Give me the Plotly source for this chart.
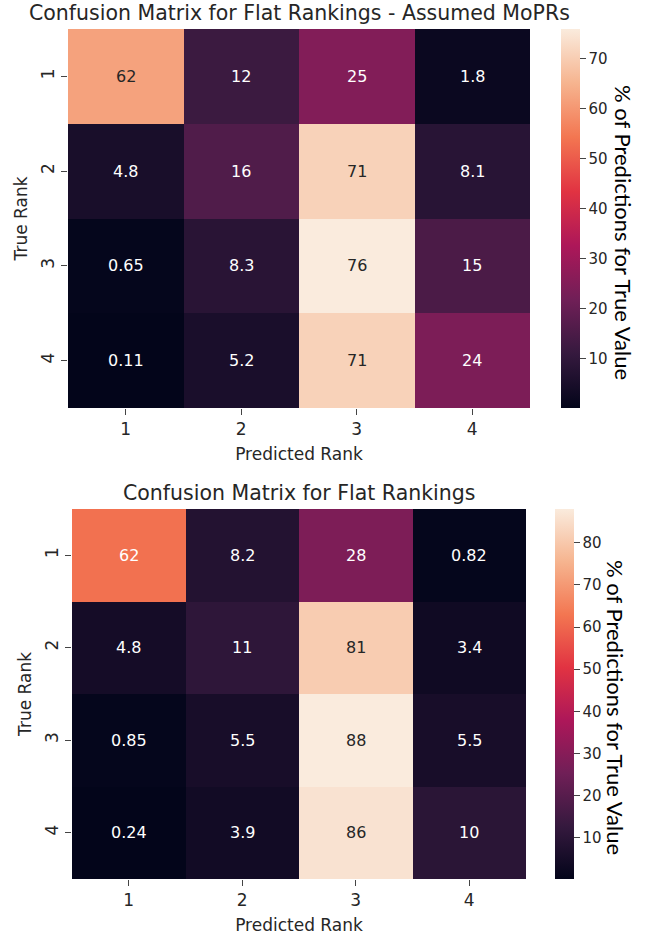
import plotly.graph_objects as go

# Confusion matrices (% of predictions for each true rank)
ranks = [1, 2, 3, 4]
rank_labels = ["1", "2", "3", "4"]
assumed_mopr = [
    [62, 12, 25, 1.8],
    [4.8, 16, 71, 8.1],
    [0.65, 8.3, 76, 15],
    [0.11, 5.2, 71, 24],
]
flat = [
    [62, 8.2, 28, 0.82],
    [4.8, 11, 81, 3.4],
    [0.85, 5.5, 88, 5.5],
    [0.24, 3.9, 86, 10],
]
titles = ["Confusion Matrix for Flat Rankings - Assumed MoPRs",
          "Confusion Matrix for Flat Rankings"]
cbar_title = "% of Predictions for True Value"
cbar_ticks = [[10, 20, 30, 40, 50, 60, 70], [10, 20, 30, 40, 50, 60, 70, 80]]

# seaborn "rocket" colour map, sampled
rocket = [
    (0.0, "#03051a"), (1 / 7, "#35193e"), (2 / 7, "#701f57"),
    (3 / 7, "#ad1759"), (4 / 7, "#e13342"), (5 / 7, "#f37651"),
    (6 / 7, "#f6b48f"), (1.0, "#faebdd"),
]


def hex_rgb(h):
    h = h.lstrip("#")
    return [int(h[i:i + 2], 16) / 255 for i in (0, 2, 4)]


def cmap(t):
    t = min(max(t, 0), 1)
    for (t0, c0), (t1, c1) in zip(rocket[:-1], rocket[1:]):
        if t <= t1:
            f = (t - t0) / (t1 - t0) if t1 > t0 else 0
            a, b = hex_rgb(c0), hex_rgb(c1)
            return [a[i] + f * (b[i] - a[i]) for i in range(3)]
    return hex_rgb(rocket[-1][1])


def luminance(rgb):
    lin = [c / 12.92 if c <= 0.03928 else ((c + 0.055) / 1.055) ** 2.4 for c in rgb]
    return 0.2126 * lin[0] + 0.7152 * lin[1] + 0.0722 * lin[2]


FONT = "DejaVu Sans"
TXT = "#262626"
W, H = 645, 936

# pixel layout of each panel
panels = [
    dict(box=(68, 530, 29, 408), cbx=(561, 580), cbt=(624, 232), title_y=13),
    dict(box=(72, 526, 509, 879), cbx=(555, 574), cbt=(616, 707), title_y=493),
]

fig = go.Figure()
annotations = []
for k, (mat, p) in enumerate(zip([assumed_mopr, flat], panels)):
    x0, x1, y0, y1 = p["box"]
    xa = "x" if k == 0 else "x2"
    ya = "y" if k == 0 else "y2"
    vals = [v for row in mat for v in row]
    zmin, zmax = min(vals), max(vals)
    fig.add_trace(go.Heatmap(
        z=mat, x=ranks, y=ranks, xaxis=xa, yaxis=ya,
        zmin=zmin, zmax=zmax,
        colorscale=[[t, c] for t, c in rocket],
        hoverinfo="skip",
        colorbar=dict(
            x=p["cbx"][0] / W, xanchor="left", xpad=0, ypad=0,
            y=1 - (y0 + y1) / 2 / H, yanchor="middle",
            len=(y1 - y0) / H, lenmode="fraction",
            thickness=p["cbx"][1] - p["cbx"][0], thicknessmode="pixels",
            outlinewidth=0,
            tickvals=cbar_ticks[k], ticks="outside", ticklen=6,
            tickcolor="#444", tickwidth=1,
            tickfont=dict(family=FONT, size=15, color=TXT),
        ),
    ))
    for i, row in enumerate(mat):
        for j, v in enumerate(row):
            rgb = cmap((v - zmin) / (zmax - zmin))
            color = TXT if luminance(rgb) > 0.408 else "#ffffff"
            annotations.append(dict(
                x=ranks[j], y=ranks[i], xref=xa, yref=ya, text=f"{v:.2g}",
                showarrow=False, font=dict(family=FONT, size=16, color=color)))
    # panel title
    annotations.append(dict(
        x=(x0 + x1) / 2 / W, y=1 - p["title_y"] / H, xref="paper", yref="paper",
        text=titles[k], showarrow=False, yanchor="middle",
        font=dict(family=FONT, size=20.5, color=TXT)))
    # colourbar title
    annotations.append(dict(
        x=p["cbt"][0] / W, y=1 - p["cbt"][1] / H, xref="paper", yref="paper",
        text=cbar_title, showarrow=False, textangle=90,
        xanchor="center", yanchor="middle",
        font=dict(family="Lato", size=22, color="#000000")))

    axis_common = dict(
        ticks="outside", ticklen=6, tickcolor="#444", tickwidth=1,
        showgrid=False, zeroline=False, showline=False,
        tickvals=ranks, ticktext=rank_labels,
        tickfont=dict(family=FONT, size=17, color=TXT),
    )
    xname = "xaxis" if k == 0 else "xaxis2"
    yname = "yaxis" if k == 0 else "yaxis2"
    fig.update_layout(**{
        xname: dict(axis_common, domain=[x0 / W, x1 / W], anchor=ya,
                    range=[0.5, 4.5],
                    title=dict(text="Predicted Rank", standoff=9,
                               font=dict(family=FONT, size=17, color=TXT))),
        yname: dict(axis_common, domain=[1 - y1 / H, 1 - y0 / H], anchor=xa,
                    range=[4.5, 0.5], tickangle=-90,
                    title=dict(text="True Rank", standoff=6,
                               font=dict(family=FONT, size=17, color=TXT))),
    })

fig.update_layout(
    width=W, height=H, margin=dict(l=0, r=0, t=0, b=0),
    paper_bgcolor="white", plot_bgcolor="white",
    annotations=annotations, showlegend=False,
)

fig.write_html("out.html")
